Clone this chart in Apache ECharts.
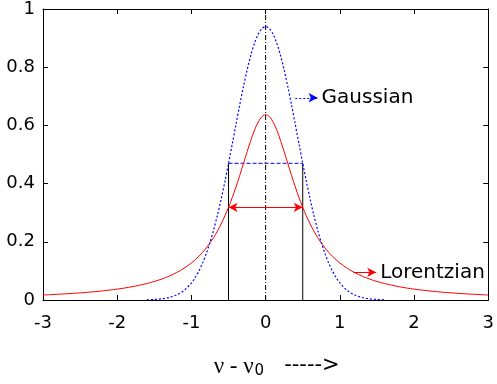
<!DOCTYPE html>
<html>
<head>
<meta charset="utf-8">
<script src="https://cdn.jsdelivr.net/npm/echarts@6/dist/echarts.min.js"></script>
<style>html,body{margin:0;padding:0;background:#fff}#c{width:497px;height:384px}</style>
</head>
<body>
<div id="c"></div>
<script>
// x ticks / y ticks
var xTicks = [-3, -2, -1, 0, 1, 2, 3];
var yTicks = [0, 0.2, 0.4, 0.6, 0.8, 1];

// Lorentzian curve, [nu - nu0, intensity]
var lorentzian = [
  [-3.0,0.0172],[-2.9,0.0184],[-2.8,0.0197],[-2.7,0.0211],[-2.6,0.0227],[-2.5,0.0245],
  [-2.4,0.0265],[-2.3,0.0287],[-2.2,0.0313],[-2.1,0.0342],[-2.0,0.0374],[-1.9,0.0412],
  [-1.8,0.0456],[-1.7,0.0507],[-1.6,0.0566],[-1.5,0.0637],[-1.4,0.0720],[-1.3,0.0820],
  [-1.2,0.0942],[-1.1,0.1090],[-1.0,0.1273],[-0.9,0.1501],[-0.8,0.1788],[-0.7,0.2151],
  [-0.6,0.2609],[-0.5,0.3183],[-0.45,0.3517],[-0.4,0.3882],[-0.35,0.4273],[-0.3,0.4681],
  [-0.25,0.5093],[-0.2,0.5488],[-0.15,0.5841],[-0.1,0.6121],[-0.05,0.6303],[0,0.6366],
  [0.05,0.6303],[0.1,0.6121],[0.15,0.5841],[0.2,0.5488],[0.25,0.5093],[0.3,0.4681],
  [0.35,0.4273],[0.4,0.3882],[0.45,0.3517],[0.5,0.3183],[0.6,0.2609],[0.7,0.2151],
  [0.8,0.1788],[0.9,0.1501],[1.0,0.1273],[1.1,0.1090],[1.2,0.0942],[1.3,0.0820],
  [1.4,0.0720],[1.5,0.0637],[1.6,0.0566],[1.7,0.0507],[1.8,0.0456],[1.9,0.0412],
  [2.0,0.0374],[2.1,0.0342],[2.2,0.0313],[2.3,0.0287],[2.4,0.0265],[2.5,0.0245],
  [2.6,0.0227],[2.7,0.0211],[2.8,0.0197],[2.9,0.0184],[3.0,0.0172]
];

// Gaussian curve
var gaussian = [
  [-1.6,0.0008],[-1.5,0.0018],[-1.4,0.0041],[-1.3,0.0087],[-1.2,0.0173],[-1.1,0.0328],
  [-1.0,0.0587],[-0.95,0.0769],[-0.9,0.0994],[-0.85,0.1267],[-0.8,0.1593],[-0.75,0.1975],
  [-0.7,0.2415],[-0.65,0.2911],[-0.6,0.3462],[-0.55,0.4061],[-0.5,0.4697],[-0.45,0.5358],
  [-0.4,0.6028],[-0.35,0.6689],[-0.3,0.7319],[-0.25,0.7899],[-0.2,0.8408],[-0.15,0.8826],
  [-0.1,0.9137],[-0.05,0.9329],[0,0.9394],[0.05,0.9329],[0.1,0.9137],[0.15,0.8826],
  [0.2,0.8408],[0.25,0.7899],[0.3,0.7319],[0.35,0.6689],[0.4,0.6028],[0.45,0.5358],
  [0.5,0.4697],[0.55,0.4061],[0.6,0.3462],[0.65,0.2911],[0.7,0.2415],[0.75,0.1975],
  [0.8,0.1593],[0.85,0.1267],[0.9,0.0994],[0.95,0.0769],[1.0,0.0587],[1.1,0.0328],
  [1.2,0.0173],[1.3,0.0087],[1.4,0.0041],[1.5,0.0018],[1.6,0.0008]
];

// annotation values
var centerLine = [[0, 0], [0, 1]];
var halfWidthLeft = [[-0.5, 0], [-0.5, 0.4697]];
var halfWidthRight = [[0.5, 0], [0.5, 0.4697]];
var gaussHalfMax = [[-0.5, 0.4697], [0.5, 0.4697]];
var lorHalfMax = [[-0.5, 0.3183], [0.5, 0.3183]];
var gaussPointer = [[0.40, 0.695], [0.70, 0.695]];
var lorPointer = [[1.18, 0.095], [1.49, 0.095]];
var labels = { gauss: 'Gaussian', lor: 'Lorentzian' };

var SANS = '"DejaVu Sans", "Liberation Sans", Arial, sans-serif';

function lineSeries(data, color, type, width) {
  return {
    type: 'line', data: data, showSymbol: false, symbol: 'none', silent: true,
    animation: false, xAxisIndex: 0, yAxisIndex: 0,
    lineStyle: { color: color, width: width || 1, type: type || 'solid' }
  };
}

function arrowSeries(pts, color, type, symbols, labelText) {
  return {
    type: 'line', data: [], xAxisIndex: 0, yAxisIndex: 0, animation: false, silent: true,
    markLine: {
      silent: true, animation: false,
      symbol: symbols, symbolSize: [7, 9],
      lineStyle: { color: color, width: 1, type: type },
      itemStyle: { color: color },
      label: labelText ? {
        show: true, position: 'end', formatter: labelText, color: '#000',
        fontFamily: SANS, fontSize: 20, distance: 4
      } : { show: false },
      emphasis: { disabled: true },
      data: [[{ coord: pts[0] }, { coord: pts[1] }]]
    }
  };
}

var axisCommon = {
  type: 'value',
  axisLine: { show: true, onZero: false, lineStyle: { color: '#000', width: 1 } },
  axisTick: { show: true, inside: true, length: 5, lineStyle: { color: '#000', width: 1 } },
  splitLine: { show: false }
};

var chart = echarts.init(document.getElementById('c'), null, { renderer: 'canvas' });
chart.setOption({
  animation: false,
  backgroundColor: '#fff',
  grid: { left: 43, right: 8, top: 7, bottom: 80, containLabel: false },
  xAxis: [
    Object.assign({}, axisCommon, {
      position: 'bottom', min: xTicks[0], max: xTicks[xTicks.length - 1], interval: 1,
      axisLabel: { color: '#000', fontFamily: SANS, fontSize: 18, margin: 14 },
      name: '{s|ν - ν}{sub|0}{a|   ----->}',
      nameLocation: 'middle', nameGap: 55,
      nameTextStyle: {
        padding: [0, 0, 0, 22],
        rich: {
          s: { fontFamily: '"Liberation Serif", "DejaVu Serif", serif', fontSize: 23, color: '#000', lineHeight: 20, verticalAlign: 'top' },
          sub: { fontFamily: SANS, fontSize: 15, color: '#000', lineHeight: 14, padding: [9, 0, 0, 1], verticalAlign: 'top' },
          a: { fontFamily: SANS, fontSize: 21, color: '#000', lineHeight: 20, verticalAlign: 'top' }
        }
      }
    }),
    Object.assign({}, axisCommon, {
      position: 'top', min: xTicks[0], max: xTicks[xTicks.length - 1], interval: 1,
      axisLabel: { show: false }
    })
  ],
  yAxis: [
    Object.assign({}, axisCommon, {
      position: 'left', min: yTicks[0], max: yTicks[yTicks.length - 1], interval: 0.2,
      axisLabel: { color: '#000', fontFamily: SANS, fontSize: 18, margin: 8 }
    }),
    Object.assign({}, axisCommon, {
      position: 'right', min: yTicks[0], max: yTicks[yTicks.length - 1], interval: 0.2,
      axisLabel: { show: false }
    })
  ],
  series: [
    lineSeries(centerLine, '#000', [5, 2, 1, 2], 1),
    lineSeries(halfWidthLeft, '#000', 'solid', 1),
    lineSeries(halfWidthRight, '#000', 'solid', 1),
    lineSeries(gaussHalfMax, '#0000ff', [4, 2], 1),
    Object.assign(lineSeries(lorentzian, '#ff0000', 'solid', 1), { smooth: 0.3 }),
    Object.assign(lineSeries(gaussian, '#0000ff', [2, 2], 1.2), { smooth: 0.3 }),
    arrowSeries(lorHalfMax, '#ff0000', 'solid', ['arrow', 'arrow'], null),
    arrowSeries(gaussPointer, '#0000ff', [2, 2], ['none', 'arrow'], labels.gauss),
    arrowSeries(lorPointer, '#ff0000', 'solid', ['none', 'arrow'], labels.lor)
  ]
});
</script>
</body>
</html>
